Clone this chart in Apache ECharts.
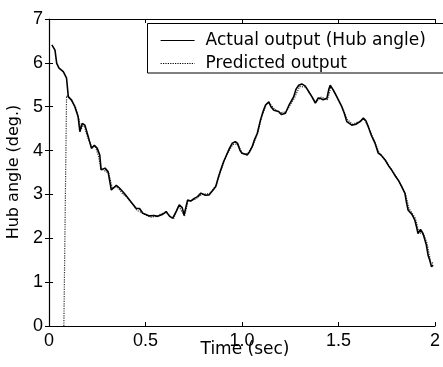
<!DOCTYPE html>
<html><head><meta charset="utf-8">
<script src="https://cdn.jsdelivr.net/npm/echarts@6/dist/echarts.min.js"></script>
<style>html,body{margin:0;padding:0;background:#fff}#c{width:443px;height:367px}</style>
</head><body><div id="c"></div>
<script>
const xTickLabels = ["0", "0.5", "1.0", "1.5", "2"];
const yTickLabels = ["0", "1", "2", "3", "4", "5", "6", "7"];
const seriesNames = ["Actual output (Hub angle)", "Predicted output"];
const actualTime = [0.015,0.031,0.040,0.052,0.074,0.091,0.100,0.117,0.134,0.151,0.160,0.172,0.186,0.203,0.220,0.235,0.250,0.263,0.270,0.290,0.306,0.323,0.349,0.366,0.385,0.400,0.426,0.452,0.469,0.486,0.520,0.545,0.563,0.572,0.590,0.607,0.625,0.641,0.660,0.675,0.690,0.700,0.718,0.735,0.753,0.770,0.787,0.810,0.830,0.850,0.864,0.878,0.890,0.905,0.916,0.935,0.950,0.965,0.976,0.990,1.000,1.015,1.027,1.040,1.053,1.065,1.079,1.096,1.110,1.122,1.139,1.150,1.165,1.190,1.205,1.225,1.245,1.268,1.280,1.294,1.310,1.328,1.345,1.362,1.380,1.395,1.406,1.420,1.440,1.450,1.457,1.470,1.483,1.500,1.517,1.530,1.543,1.556,1.569,1.590,1.612,1.629,1.642,1.655,1.670,1.689,1.706,1.720,1.741,1.760,1.775,1.790,1.809,1.825,1.844,1.853,1.861,1.880,1.895,1.905,1.912,1.925,1.938,1.955,1.965,1.973,1.982,1.990];
const actualValue = [6.41,6.29,5.99,5.88,5.80,5.65,5.23,5.15,5.00,4.77,4.43,4.62,4.58,4.32,4.05,4.12,4.05,3.90,3.56,3.60,3.52,3.10,3.21,3.14,3.05,2.97,2.82,2.68,2.68,2.57,2.51,2.52,2.50,2.46,2.55,2.61,2.50,2.46,2.62,2.76,2.70,2.53,2.87,2.85,2.91,2.95,3.03,2.98,2.99,3.10,3.18,3.40,3.56,3.75,3.86,4.05,4.17,4.20,4.17,4.00,3.94,3.92,3.90,3.98,4.09,4.25,4.39,4.70,4.90,5.04,5.11,5.00,4.92,4.89,4.82,4.85,5.05,5.23,5.40,5.49,5.52,5.47,5.35,5.23,5.08,5.20,5.19,5.16,5.19,5.40,5.49,5.40,5.30,5.15,5.00,4.85,4.66,4.62,4.58,4.60,4.66,4.74,4.68,4.54,4.35,4.17,3.94,3.90,3.79,3.65,3.56,3.45,3.33,3.20,3.03,2.80,2.64,2.55,2.42,2.25,2.11,2.20,2.11,1.85,1.60,1.50,1.35,1.39];
const predTime = [0.077,0.091,0.105,0.120,0.138,0.155,0.165,0.180,0.200,0.222,0.240,0.256,0.268,0.285,0.310,0.328,0.352,0.380,0.405,0.430,0.455,0.490,0.525,0.560,0.580,0.610,0.645,0.672,0.702,0.720,0.758,0.790,0.833,0.868,0.893,0.920,0.953,0.978,1.003,1.030,1.057,1.083,1.100,1.126,1.142,1.168,1.193,1.228,1.272,1.298,1.330,1.366,1.384,1.410,1.443,1.461,1.487,1.521,1.547,1.573,1.616,1.633,1.659,1.693,1.710,1.745,1.779,1.813,1.848,1.865,1.899,1.916,1.942,1.959,1.977,1.993];
const predValue = [0.00,5.25,5.20,5.12,4.98,4.72,4.48,4.60,4.30,4.08,4.10,3.88,3.60,3.55,3.48,3.14,3.18,3.02,2.93,2.80,2.64,2.56,2.48,2.50,2.56,2.58,2.44,2.74,2.50,2.84,2.89,3.00,3.02,3.22,3.58,3.90,4.14,4.15,3.92,3.93,4.12,4.42,4.74,5.06,5.08,4.95,4.86,4.88,5.20,5.46,5.45,5.20,5.10,5.22,5.16,5.46,5.27,4.97,4.70,4.60,4.68,4.72,4.50,4.14,3.96,3.76,3.54,3.30,3.00,2.68,2.45,2.14,2.08,1.88,1.47,1.42];

const actual = actualTime.map((t, i) => [t, actualValue[i]]);
const predicted = predTime.map((t, i) => [t, predValue[i]]);

const FONT = "Liberation Sans";
const WFONT = "DejaVu Sans";
const chart = echarts.init(document.getElementById('c'), null, {renderer: 'canvas'});
const G = {left: 49, top: 19, right: 6, bottom: 41};
const axisCommon = {
  min: 0, splitLine: {show: false},
  axisLine: {show: true, onZero: false, lineStyle: {color: '#000', width: 1.2}},
  axisTick: {show: true, inside: true, length: 4, lineStyle: {color: '#000'}},
};
chart.setOption({
  animation: false,
  backgroundColor: '#fff',
  textStyle: {fontFamily: FONT},
  grid: G,
  xAxis: [
    Object.assign({}, axisCommon, {
      type: 'value', max: 2, interval: 0.5, position: 'bottom',
      axisLabel: {color: '#000', fontSize: 18, fontFamily: FONT, margin: 6,
        formatter: v => xTickLabels[Math.round(v / 0.5)]}
    }),
    Object.assign({}, axisCommon, {
      type: 'value', max: 2, interval: 0.5, position: 'top',
      axisLabel: {show: false}
    })
  ],
  yAxis: [
    Object.assign({}, axisCommon, {
      type: 'value', max: 7, interval: 1, position: 'left',
      axisLabel: {color: '#000', fontSize: 18, fontFamily: FONT, margin: 6,
        formatter: v => yTickLabels[Math.round(v)]}
    }),
    Object.assign({}, axisCommon, {
      type: 'value', max: 7, interval: 1, position: 'right',
      axisLine: {show: false},
      axisLabel: {show: false}
    })
  ],
  legend: {
    left: 155, top: 27, orient: 'vertical', itemGap: 6,
    itemWidth: 34, itemHeight: 10,
    textStyle: {color: '#000', fontSize: 17, fontFamily: WFONT, padding: [0, 0, 0, 6]},
    data: [
      {name: seriesNames[0], itemStyle: {opacity: 0}, lineStyle: {color: '#000', width: 1, type: 'solid'}},
      {name: seriesNames[1], itemStyle: {opacity: 0}, lineStyle: {color: '#000', width: 1.2, type: 'dotted'}}
    ]
  },
  graphic: [
    {type: 'rect', z: 4, shape: {x: 147.5, y: 23.5, width: 300, height: 49.5},
      style: {fill: '#fff', stroke: '#000', lineWidth: 1}},
    {type: 'text', x: 245, y: 341, style: {text: 'Time (sec)', fill: '#000', font: '17px "DejaVu Sans"', textAlign: 'center', textVerticalAlign: 'top'}},
    {type: 'text', x: 14, y: 172, rotation: Math.PI / 2, style: {text: 'Hub angle (deg.)', fill: '#000', font: '16px "DejaVu Sans"', textAlign: 'center', textVerticalAlign: 'middle'}}
  ],
  series: [
    {name: seriesNames[0], type: 'line', data: actual, symbol: 'none', showSymbol: false,
      lineStyle: {color: '#000', width: 1.6}, z: 3},
    {name: seriesNames[1], type: 'line', data: predicted, symbol: 'none', showSymbol: false,
      lineStyle: {color: '#333', width: 1.2, type: 'dotted'}, z: 2}
  ]
});
</script></body></html>
